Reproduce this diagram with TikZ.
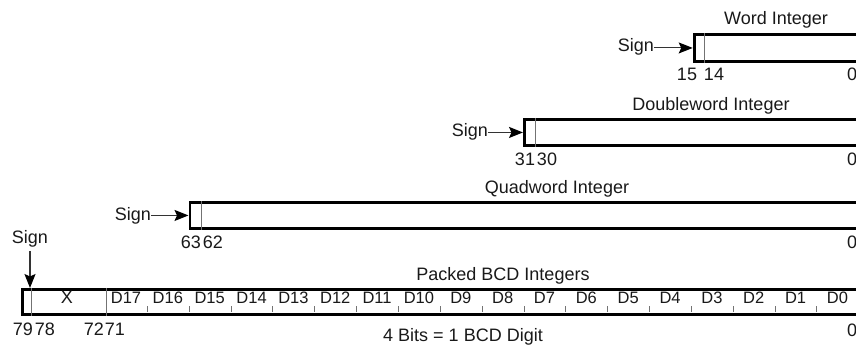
\documentclass[tikz,border=0pt]{standalone}
\usepackage{fontspec}
\setmainfont{Liberation Sans}
\usetikzlibrary{arrows.meta}
\begin{document}
\begin{tikzpicture}[x=1pt,y=-1pt,
  lbl/.style={inner sep=0pt, anchor=base, font=\fontsize{18}{20}\selectfont, text=black!90},
  dlbl/.style={inner sep=0pt, anchor=base, font=\fontsize{16.5}{18}\selectfont, text=black!90},
  box/.style={draw=black, line width=2.9pt, rectangle, inner sep=0pt, anchor=north west},
  thinline/.style={draw=black!55, line width=1pt},
  sarrow/.style={draw=black!80, line width=1.1pt, -{Stealth[length=14pt,width=11pt,inset=2.5pt,color=black,fill=black]}}]
\useasboundingbox (0,0) rectangle (856,345);
\clip (0,0) rectangle (856,345);
% Word integer
\node[box, minimum width=170pt, minimum height=27pt] (word) at (692.7,33) {};
\node[lbl] (wtitle) at (776,25) {Word Integer};
\node[lbl, anchor=base east] (wsign) at (654,52) {Sign};
\draw[sarrow] (wsign.east |- word.west) -- (word.west);
\draw[thinline] ([xshift=11.5pt]word.north west) -- ([xshift=11.5pt]word.south west);
\node[lbl] (w15) at (687,81) {15};
\node[lbl] (w14) at (714,81) {14};
\node[lbl, anchor=base west] (w0) at (847,81) {0};
% Doubleword integer
\node[box, minimum width=340pt, minimum height=26pt] (dword) at (523,118) {};
\node[lbl] (dtitle) at (711,110.5) {Doubleword Integer};
\node[lbl, anchor=base east] (dsign) at (488,136) {Sign};
\draw[sarrow] (dsign.east |- dword.west) -- (dword.west);
\draw[thinline] ([xshift=12.5pt]dword.north west) -- ([xshift=12.5pt]dword.south west);
\node[lbl] (d31) at (525,165) {31};
\node[lbl] (d30) at (547,165) {30};
\node[lbl, anchor=base west] (d0) at (847,165) {0};
% Quadword integer
\node[box, minimum width=675pt, minimum height=26pt] (qword) at (188.5,201) {};
\node[lbl] (qtitle) at (557,193) {Quadword Integer};
\node[lbl, anchor=base east] (qsign) at (151,220) {Sign};
\draw[sarrow] (qsign.east |- qword.west) -- (qword.west);
\draw[thinline] ([xshift=13pt]qword.north west) -- ([xshift=13pt]qword.south west);
\node[lbl] (q63) at (191,248) {63};
\node[lbl] (q62) at (213,248) {62};
\node[lbl, anchor=base west] (q0) at (847,248) {0};
% Packed BCD
\node[box, minimum width=838pt, minimum height=25pt] (bcd) at (20.7,288) {};
\node[lbl] (btitle) at (503,280) {Packed BCD Integers};
\node[lbl] (bsign) at (30,243) {Sign};
\draw[sarrow] ([yshift=-4pt]bsign.south) -- (bsign.south |- bcd.north);
\draw[thinline] ([xshift=10.3pt]bcd.north west) -- ([xshift=10.3pt]bcd.south west);
\draw[thinline] ([xshift=85.3pt]bcd.north west) -- ([xshift=85.3pt]bcd.south west);
\node[lbl] (bx) at (67,303) {X};
\foreach \k in {1,...,17}{
  \draw[thinline] (105.5+41.85*\k,312) -- ++(0,-6);
}
\foreach \k/\t in {0/D17,1/D16,2/D15,3/D14,4/D13,5/D12,6/D11,7/D10,8/D9,9/D8,10/D7,11/D6,12/D5,13/D4,14/D3,15/D2,16/D1,17/D0}{
  \node[dlbl] (bd\k) at (105.5+41.85*\k+20.5,303) {\t};
}
\node[lbl] (b79) at (23,335) {79};
\node[lbl] (b78) at (45,335) {78};
\node[lbl] (b72) at (94,335) {72};
\node[lbl] (b71) at (115,335) {71};
\node[lbl, anchor=base west] (b0) at (847,336) {0};
\node[lbl] (bits) at (463,341.5) {4 Bits = 1 BCD Digit};
\end{tikzpicture}
\end{document}
